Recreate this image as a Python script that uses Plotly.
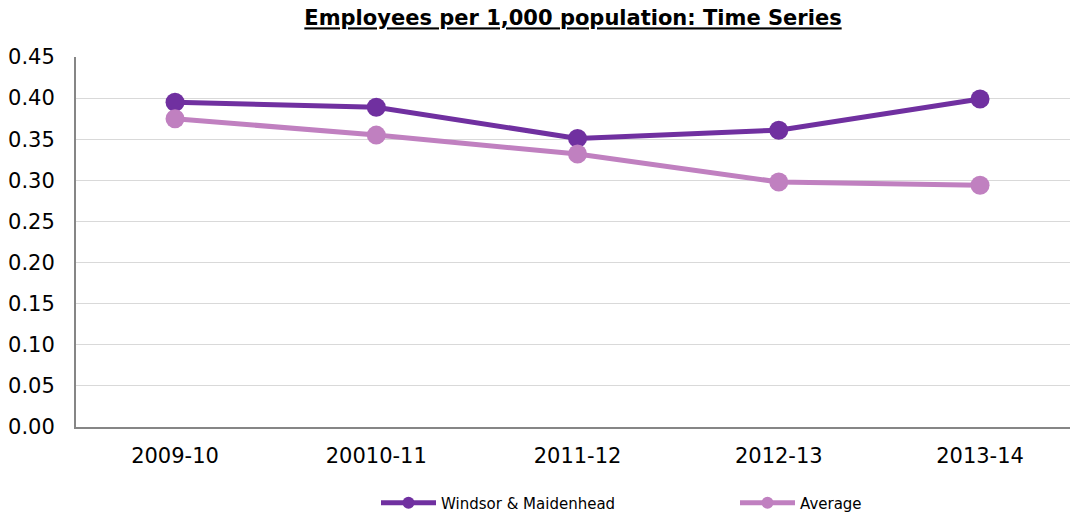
import plotly.graph_objects as go

categories = ["2009-10", "20010-11", "2011-12", "2012-13", "2013-14"]
windsor = [0.395, 0.389, 0.351, 0.361, 0.399]
average = [0.375, 0.355, 0.332, 0.298, 0.294]
y_ticks = [0.00, 0.05, 0.10, 0.15, 0.20, 0.25, 0.30, 0.35, 0.40, 0.45]
y_tick_labels = ["0.00", "0.05", "0.10", "0.15", "0.20", "0.25", "0.30", "0.35", "0.40", "0.45"]

FONT = "DejaVu Sans, Verdana, sans-serif"

fig = go.Figure()
fig.add_trace(go.Scatter(
    x=list(range(len(categories))), y=windsor, name="Windsor & Maidenhead",
    mode="lines+markers",
    line=dict(color="#7030a0", width=5),
    marker=dict(color="#7030a0", size=19),
    legend="legend",
))
fig.add_trace(go.Scatter(
    x=list(range(len(categories))), y=average, name="Average",
    mode="lines+markers",
    line=dict(color="#c080c0", width=5),
    marker=dict(color="#c080c0", size=19),
    legend="legend2",
))

legend_common = dict(
    orientation="h", yanchor="middle", y=12 / 515, yref="container",
    xref="container", xanchor="left",
    font=dict(size=15), itemwidth=55, itemsizing="constant",
    bgcolor="rgba(0,0,0,0)",
)

fig.update_layout(
    width=1070, height=515,
    margin=dict(l=76, r=0, t=57, b=88),
    paper_bgcolor="white", plot_bgcolor="white",
    font=dict(family=FONT, color="#000000"),
    title=dict(
        text="<b><u>Employees per 1,000 population: Time Series</u></b>",
        x=0.5, xanchor="center", xref="paper", y=0.965, yanchor="middle",
        font=dict(size=21, family=FONT, color="#000000"),
    ),
    showlegend=True,
    legend=dict(legend_common, x=376 / 1070),
    legend2=dict(legend_common, x=735 / 1070),
    xaxis=dict(
        range=[-0.492, 4.447],
        tickmode="array", tickvals=list(range(len(categories))), ticktext=categories,
        showgrid=False, zeroline=False,
        showline=True, linecolor="#868686", linewidth=2,
        tickfont=dict(size=21), ticks="", ticklen=0, ticklabelstandoff=9,
    ),
    yaxis=dict(
        range=[0, 0.45],
        tickmode="array", tickvals=y_ticks, ticktext=y_tick_labels,
        showgrid=True, gridcolor="#d9d9d9", gridwidth=1,
        zeroline=False,
        showline=True, linecolor="#868686", linewidth=2,
        tickfont=dict(size=21), ticks="", ticklen=0, ticklabelstandoff=15,
    ),
)

fig.write_html(
    "out.html",
    config={"displayModeBar": False},
    post_script="document.body.style.margin='0';document.body.style.overflow='hidden';",
)
